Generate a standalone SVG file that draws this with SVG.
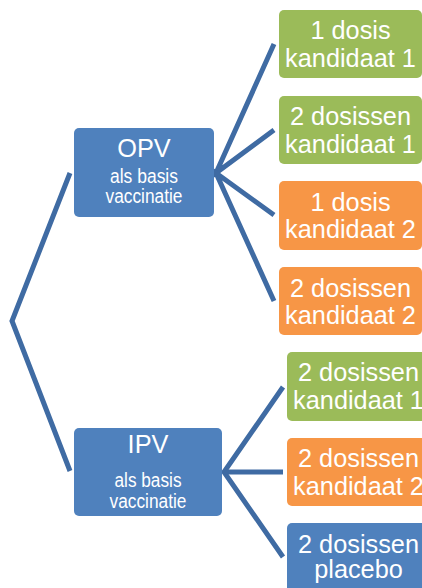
<svg xmlns="http://www.w3.org/2000/svg" width="422" height="588" viewBox="0 0 422 588">
<style>
.c{fill:none;stroke:#3f6ba3;stroke-width:5;stroke-linejoin:miter}
.blue{fill:#4f81bd}
.green{fill:#9bbb59}
.orange{fill:#f79646}
text{font-family:"Liberation Sans",Arial,sans-serif;fill:#ffffff;text-anchor:middle}
.big{font-size:25.3px}
.small{font-size:19.5px}
</style>
<rect width="422" height="588" fill="#ffffff"/>
<g id="connectors">
<polyline class="c" points="70,173 12,321 70,471"/>
<polyline class="c" points="274,44 216,173 274,130"/>
<polyline class="c" points="274,215 216,173 274,301"/>
<polyline class="c" points="283,387 224,472 283,557"/>
<line class="c" x1="224" y1="472" x2="283" y2="472"/>
</g>
<g id="opv">
<rect class="blue" x="74" y="128" width="140" height="89" rx="5"/>
<text class="big" x="144" y="157">OPV</text>
<text class="small" x="144" y="183" textLength="68" lengthAdjust="spacingAndGlyphs">als basis</text>
<text class="small" x="144" y="203" textLength="77" lengthAdjust="spacingAndGlyphs">vaccinatie</text>
</g>
<g id="ipv">
<rect class="blue" x="74" y="428" width="148" height="88" rx="5"/>
<text class="big" x="148" y="453">IPV</text>
<text class="small" x="148" y="487" textLength="67" lengthAdjust="spacingAndGlyphs">als basis</text>
<text class="small" x="148" y="508" textLength="77" lengthAdjust="spacingAndGlyphs">vaccinatie</text>
</g>
<g id="opv1">
<rect class="green" x="279" y="10" width="143" height="68" rx="5"/>
<text class="big" x="350.5" y="39">1 dosis</text>
<text class="big" x="350.5" y="66.5">kandidaat 1</text>
</g>
<g id="opv2">
<rect class="green" x="279" y="96" width="143" height="68" rx="5"/>
<text class="big" x="350.5" y="125">2 dosissen</text>
<text class="big" x="350.5" y="152.5">kandidaat 1</text>
</g>
<g id="opv3">
<rect class="orange" x="279" y="181" width="143" height="69" rx="5"/>
<text class="big" x="350.5" y="210.5">1 dosis</text>
<text class="big" x="350.5" y="238">kandidaat 2</text>
</g>
<g id="opv4">
<rect class="orange" x="279" y="267" width="143" height="68" rx="5"/>
<text class="big" x="350.5" y="296.5">2 dosissen</text>
<text class="big" x="350.5" y="324">kandidaat 2</text>
</g>
<g id="ipv1">
<rect class="green" x="287" y="352" width="143" height="69" rx="5"/>
<text class="big" x="358.5" y="381">2 dosissen</text>
<text class="big" x="358.5" y="408.5">kandidaat 1</text>
</g>
<g id="ipv2">
<rect class="orange" x="287" y="438" width="143" height="68" rx="5"/>
<text class="big" x="358.5" y="467">2 dosissen</text>
<text class="big" x="358.5" y="494.5">kandidaat 2</text>
</g>
<g id="ipv3">
<rect class="blue" x="287" y="523" width="143" height="70" rx="5"/>
<text class="big" x="358.5" y="552.5">2 dosissen</text>
<text class="big" x="358.5" y="578">placebo</text>
</g>
</svg>
